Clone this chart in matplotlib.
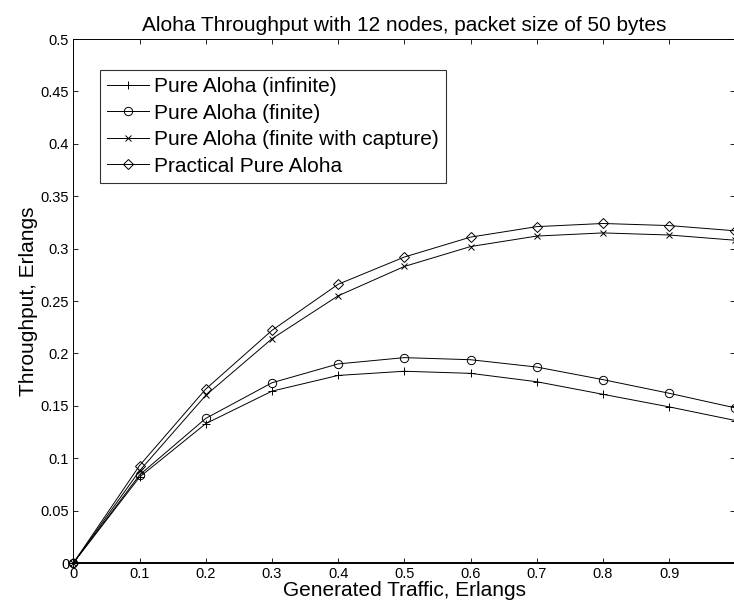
import matplotlib
matplotlib.use("Agg")
import matplotlib.pyplot as plt

plt.rcParams['font.family'] = ['Liberation Sans', 'DejaVu Sans']

traffic = [0.0, 0.1, 0.2, 0.3, 0.4, 0.5, 0.6, 0.7, 0.8, 0.9, 1.0]
pure_infinite = [0.0, 0.082, 0.133, 0.164, 0.179, 0.183, 0.181, 0.173, 0.161, 0.149, 0.136]
pure_finite = [0.0, 0.084, 0.138, 0.172, 0.190, 0.196, 0.194, 0.187, 0.175, 0.162, 0.148]
pure_capture = [0.0, 0.088, 0.160, 0.214, 0.255, 0.283, 0.302, 0.312, 0.315, 0.313, 0.308]
practical = [0.0, 0.093, 0.166, 0.222, 0.266, 0.292, 0.311, 0.321, 0.324, 0.322, 0.317]

labels = ['Pure Aloha (infinite)', 'Pure Aloha (finite)',
          'Pure Aloha (finite with capture)', 'Practical Pure Aloha']
xticks = [0, 0.1, 0.2, 0.3, 0.4, 0.5, 0.6, 0.7, 0.8, 0.9, 1.0]
xticklabels = ['0', '0.1', '0.2', '0.3', '0.4', '0.5', '0.6', '0.7', '0.8', '0.9', '']
yticks = [0, 0.05, 0.1, 0.15, 0.2, 0.25, 0.3, 0.35, 0.4, 0.45, 0.5]
yticklabels = ['0', '0.05', '0.1', '0.15', '0.2', '0.25', '0.3', '0.35', '0.4', '0.45', '0.5']

fig = plt.figure(figsize=(7.34, 6.10), dpi=100)
ax = fig.add_axes([0.0999, 0.077, 0.902, 0.859])

lw = 0.7
ax.plot(traffic, pure_infinite, color='black', lw=lw, marker='+', ms=6, mew=0.7, label=labels[0], clip_on=False)
ax.plot(traffic, pure_finite, color='black', lw=lw, marker='o', ms=6, mfc='none', mew=0.7, label=labels[1], clip_on=False)
ax.plot(traffic, pure_capture, color='black', lw=lw, marker='x', ms=4, mew=0.7, label=labels[2], clip_on=False)
ax.plot(traffic, practical, color='black', lw=lw, marker='D', ms=5.5, mfc='none', mew=0.7, label=labels[3], clip_on=False)

ax.set_xlim(0, 1)
ax.set_ylim(0, 0.5)
ax.set_xticks(xticks)
ax.set_xticklabels(xticklabels)
ax.set_yticks(yticks)
ax.set_yticklabels(yticklabels)
ax.tick_params(direction='in', length=3.5, width=0.6, top=True, right=True,
               labelsize=10.5, pad=3)
for side in ['left', 'top', 'right']:
    ax.spines[side].set_linewidth(0.7)
ax.spines['bottom'].set_linewidth(1.4)

ax.set_title('Aloha Throughput with 12 nodes, packet size of 50 bytes', fontsize=15, pad=6)
ax.set_xlabel('Generated Traffic, Erlangs', fontsize=15, labelpad=0)
ax.set_ylabel('Throughput, Erlangs', fontsize=15, labelpad=2)

leg = ax.legend(loc='upper left', bbox_to_anchor=(0.0403, 0.941), borderaxespad=0,
                fontsize=15, frameon=True, fancybox=False, handlelength=2.0,
                handletextpad=0.25, labelspacing=0.36, borderpad=0.35, numpoints=1)
leg.get_frame().set_edgecolor('black')
leg.get_frame().set_linewidth(0.8)

fig.savefig('out.png', dpi=100)
